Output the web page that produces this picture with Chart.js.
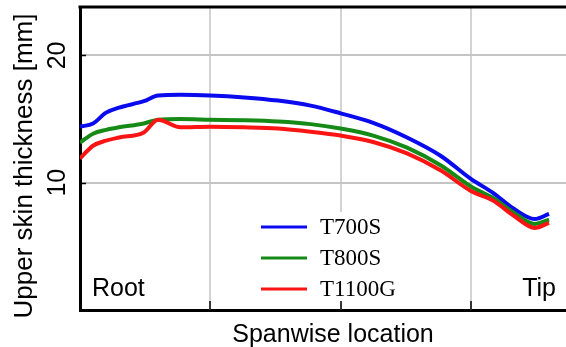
<!DOCTYPE html>
<html>
<head>
<meta charset="utf-8">
<script src="https://cdn.jsdelivr.net/npm/chart.js@4/dist/chart.umd.min.js"></script>
<style>
  html, body { margin: 0; padding: 0; background: #fff; }
  canvas { display: block; }
</style>
</head>
<body>
<canvas id="c" width="566" height="347"></canvas>
<script>
// ---- data ----
const spanPositions = [0, 0.10, 0.20, 0.30, 0.49, 0.60, 0.77, 1.00, 1.26, 1.52, 1.77, 2.00, 2.25, 2.51, 2.77, 3.00, 3.17, 3.33, 3.49, 3.60];
const t700s  = [14.4, 14.65, 15.5, 15.9, 16.4, 16.85, 16.9, 16.85, 16.7, 16.45, 16.05, 15.45, 14.7, 13.55, 12.1, 10.3, 9.2, 7.95, 7.15, 7.55];
const t800s  = [13.15, 13.85, 14.15, 14.35, 14.65, 14.95, 15.0, 14.95, 14.9, 14.8, 14.6, 14.25, 13.7, 12.75, 11.35, 9.7, 8.8, 7.65, 6.75, 7.1];
const t1100g = [11.9, 12.9, 13.3, 13.55, 13.95, 14.95, 14.35, 14.4, 14.35, 14.25, 14.0, 13.7, 13.2, 12.3, 10.95, 9.35, 8.6, 7.4, 6.45, 6.85];
const seriesLabels = ['T700S', 'T800S', 'T1100G'];
const yTickValues = [10, 20];
const xGridValues = [1, 2, 3];
const endLabels = ['Root', 'Tip'];
const xTitle = 'Spanwise location';
const yTitle = 'Upper skin thickness [mm]';

const colors = ['#0a0aee', '#168a16', '#fa1414'];
const seriesValues = [t700s, t800s, t1100g];

const datasets = seriesValues.map((vals, i) => ({
  label: seriesLabels[i],
  data: spanPositions.map((x, k) => ({ x: x, y: vals[k] })),
  borderColor: colors[i],
  borderWidth: 4,
  pointRadius: 0,
  cubicInterpolationMode: 'monotone',
  fill: false,
  order: 2 - i
}));

const SANS = '"Liberation Sans", Arial, sans-serif';
const SERIF = '"Liberation Serif", "Times New Roman", serif';

const overlay = {
  id: 'overlay',
  beforeDatasetsDraw(chart) {
    const { ctx, chartArea: a, scales } = chart;
    const xs = scales.x;
    ctx.save();
    ctx.strokeStyle = '#c4c4c4';
    ctx.lineWidth = 1.5;
    xGridValues.forEach(v => {
      const px = Math.round(xs.getPixelForValue(v));
      ctx.beginPath(); ctx.moveTo(px, a.top); ctx.lineTo(px, a.bottom); ctx.stroke();
    });
    ctx.restore();
  },
  afterDraw(chart) {
    const { ctx, chartArea: a, scales } = chart;
    const xs = scales.x, ys = scales.y;
    ctx.save();
    // top frame line
    ctx.strokeStyle = '#000';
    ctx.lineWidth = 3;
    ctx.beginPath();
    ctx.moveTo(a.left - 1.5, a.top);
    ctx.lineTo(a.right, a.top);
    ctx.stroke();
    // legend background
    ctx.fillStyle = '#fff';
    ctx.fillRect(250, 212, 150, 91);
    // inner tick marks
    ctx.strokeStyle = '#000';
    ctx.lineWidth = 1.5;
    xGridValues.forEach(v => {
      const px = Math.round(xs.getPixelForValue(v));
      ctx.beginPath(); ctx.moveTo(px, a.bottom); ctx.lineTo(px, a.bottom - 9); ctx.stroke();
    });
    yTickValues.forEach(v => {
      const py = Math.round(ys.getPixelForValue(v)) + 0.5;
      ctx.beginPath(); ctx.moveTo(a.left, py); ctx.lineTo(a.left + 6, py); ctx.stroke();
    });
    // y tick labels (rotated)
    ctx.fillStyle = '#000';
    ctx.font = '25px ' + SANS;
    ctx.textAlign = 'center';
    ctx.textBaseline = 'middle';
    yTickValues.forEach(v => {
      ctx.save();
      ctx.translate(57, ys.getPixelForValue(v));
      ctx.rotate(-Math.PI / 2);
      ctx.fillText(String(v), 0, 1);
      ctx.restore();
    });
    // y title
    ctx.save();
    ctx.translate(25, 166);
    ctx.rotate(-Math.PI / 2);
    ctx.font = '26px ' + SANS;
    ctx.textAlign = 'center';
    ctx.textBaseline = 'middle';
    ctx.fillText(yTitle, 0, 0);
    ctx.restore();
    // x title
    ctx.font = '25px ' + SANS;
    ctx.textAlign = 'center';
    ctx.textBaseline = 'alphabetic';
    ctx.fillText(xTitle, 333, 342);
    // Root / Tip
    ctx.textAlign = 'left';
    ctx.fillText(endLabels[0], 92, 296);
    ctx.textAlign = 'right';
    ctx.fillText(endLabels[1], 556, 296);
    // legend entries
    ctx.font = '23px ' + SERIF;
    ctx.textAlign = 'left';
    ctx.textBaseline = 'middle';
    chart.data.datasets.forEach((ds, i) => {
      const yy = 227 + i * 31;
      ctx.strokeStyle = ds.borderColor;
      ctx.lineWidth = 3;
      ctx.beginPath(); ctx.moveTo(261, yy); ctx.lineTo(307, yy); ctx.stroke();
      ctx.fillStyle = '#000';
      ctx.fillText(ds.label, 320, yy + 1);
    });
    ctx.restore();
  }
};

new Chart(document.getElementById('c'), {
  type: 'line',
  data: { datasets },
  options: {
    responsive: false,
    animation: false,
    devicePixelRatio: 1,
    layout: { padding: { left: 80, top: 7, right: 0, bottom: 37 } },
    plugins: { legend: { display: false }, tooltip: { enabled: false } },
    scales: {
      x: {
        type: 'linear',
        min: 0,
        max: 3.73,
        ticks: { display: false, stepSize: 1 },
        grid: { display: false, drawTicks: false },
        border: { display: true, color: '#000', width: 3 }
      },
      y: {
        type: 'linear',
        min: 0,
        max: 23.8,
        ticks: { display: false, stepSize: 10 },
        grid: { color: '#c4c4c4', lineWidth: 2, drawTicks: false },
        border: { color: '#000', width: 3 }
      }
    }
  },
  plugins: [overlay]
});
</script>
</body>
</html>
